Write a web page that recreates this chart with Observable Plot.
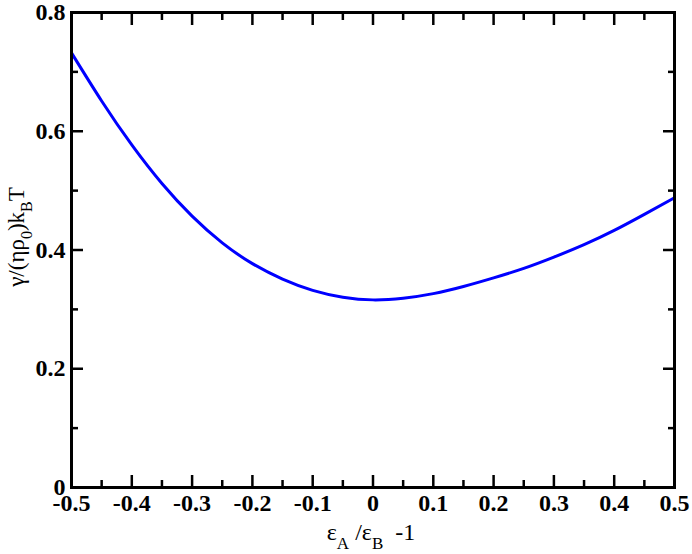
<!DOCTYPE html>
<html>
<head>
<meta charset="utf-8">
<script src="https://cdn.jsdelivr.net/npm/d3@7"></script>
<script src="https://cdn.jsdelivr.net/npm/@observablehq/plot@0.6"></script>
<style>
  body { margin: 0; background: #fff; }
  #chart { width: 692px; height: 554px; }
</style>
</head>
<body>
<div id="chart"></div>
<script>
// Data
const ratio = [-0.5, -0.45, -0.4, -0.35, -0.3, -0.25, -0.2, -0.15, -0.1, -0.05, 0,
               0.05, 0.1, 0.15, 0.2, 0.25, 0.3, 0.35, 0.4, 0.45, 0.5];
const gamma = [0.732, 0.651, 0.577, 0.512, 0.457, 0.412, 0.377, 0.351, 0.332, 0.3205, 0.316,
               0.3188, 0.3265, 0.3385, 0.353, 0.369, 0.388, 0.409, 0.433, 0.460, 0.488];
const xTicks = [-0.5, -0.4, -0.3, -0.2, -0.1, 0, 0.1, 0.2, 0.3, 0.4, 0.5];
const xMinor = [-0.45, -0.35, -0.25, -0.15, -0.05, 0.05, 0.15, 0.25, 0.35, 0.45];
const yTicks = [0, 0.2, 0.4, 0.6, 0.8];
const yMinor = [0.1, 0.3, 0.5, 0.7];

const data = ratio.map((r, i) => ({x: r, y: gamma[i]}));
const fmt = d => d === 0 ? "0" : d.toFixed(1);
const font = "'Liberation Serif', 'Times New Roman', serif";

const plot = Plot.plot({
  width: 692,
  height: 554,
  marginLeft: 71,
  marginRight: 18,
  marginTop: 12,
  marginBottom: 67,
  style: {fontFamily: font, fontSize: "24px", fontWeight: "bold", color: "#000", background: "#fff"},
  x: {domain: [-0.5, 0.5], label: null},
  y: {domain: [0, 0.8], label: null},
  marks: [
    Plot.line(data, {x: "x", y: "y", stroke: "#0000ff", strokeWidth: 3, curve: "natural"}),
    // labels
    Plot.axisX({ticks: xTicks, tickSize: 0, tickPadding: 6, tickFormat: fmt, anchor: "bottom", label: null}),
    Plot.axisY({ticks: yTicks, tickSize: 0, tickPadding: 6, tickFormat: fmt, anchor: "left", label: null}),
    // inward major ticks
    Plot.axisX({ticks: xTicks, tickSize: -12, text: null, anchor: "bottom", strokeWidth: 2.5, label: null}),
    Plot.axisX({ticks: xTicks, tickSize: -12, text: null, anchor: "top", strokeWidth: 2.5, label: null}),
    Plot.axisY({ticks: yTicks, tickSize: -12, text: null, anchor: "left", strokeWidth: 2.5, label: null}),
    Plot.axisY({ticks: yTicks, tickSize: -12, text: null, anchor: "right", strokeWidth: 2.5, label: null}),
    // inward minor ticks
    Plot.axisX({ticks: xMinor, tickSize: -7, text: null, anchor: "bottom", strokeWidth: 2.5, label: null}),
    Plot.axisX({ticks: xMinor, tickSize: -7, text: null, anchor: "top", strokeWidth: 2.5, label: null}),
    Plot.axisY({ticks: yMinor, tickSize: -7, text: null, anchor: "left", strokeWidth: 2.5, label: null}),
    Plot.axisY({ticks: yMinor, tickSize: -7, text: null, anchor: "right", strokeWidth: 2.5, label: null}),
    Plot.frame({stroke: "#000", strokeWidth: 3})
  ]
});

const svg = d3.select(plot);
// x axis label: ε_A /ε_B  -1
const xl = svg.append("text")
  .attr("x", 371).attr("y", 540)
  .attr("text-anchor", "middle")
  .attr("font-family", font).attr("font-size", 24).attr("font-weight", "normal")
  .attr("fill", "#000")
  .attr("xml:space", "preserve");
xl.append("tspan").text("ε");
xl.append("tspan").attr("dy", 9).attr("font-size", 17).text("A");
xl.append("tspan").attr("dy", -9).text(" /ε");
xl.append("tspan").attr("dy", 9).attr("font-size", 17).text("B");
xl.append("tspan").attr("dy", -9).text("  -1");

// y axis label: γ/(ηρ0)kBT
const yl = svg.append("text")
  .attr("transform", "translate(24,237) rotate(-90)")
  .attr("text-anchor", "middle")
  .attr("font-family", font).attr("font-size", 23).attr("font-weight", "normal")
  .attr("fill", "#000");
yl.append("tspan").text("γ/(ηρ");
yl.append("tspan").attr("dy", 8).attr("font-size", 16).text("0");
yl.append("tspan").attr("dy", -8).text(")k");
yl.append("tspan").attr("dy", 8).attr("font-size", 16).text("B");
yl.append("tspan").attr("dy", -8).text("T");

document.getElementById("chart").appendChild(plot);
</script>
</body>
</html>
